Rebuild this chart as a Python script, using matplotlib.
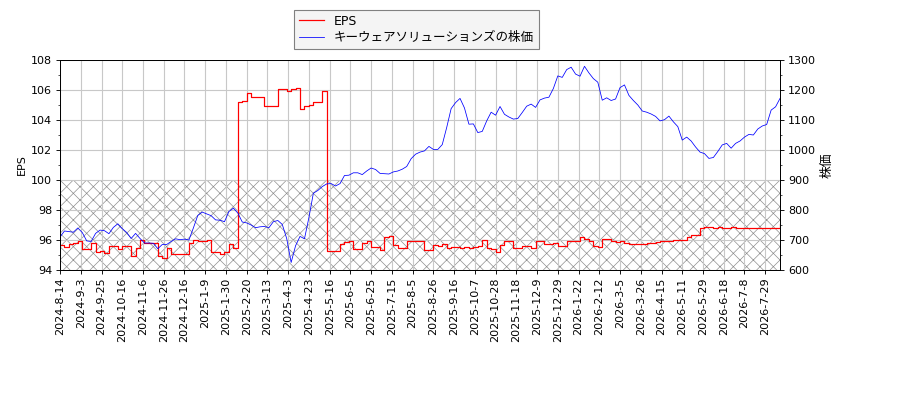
import numpy as np
import matplotlib

matplotlib.use("Agg")
import matplotlib.pyplot as plt
from matplotlib.ticker import MultipleLocator

plt.rcParams["font.family"] = ["DejaVu Sans", "Noto Sans CJK JP"]
plt.rcParams["hatch.linewidth"] = 0.6

# trading-day sampling step (values read every 3 trading days)
STEP = 3

# tick labels, one every 14 trading days
date_labels = [
    "2024-8-14", "2024-9-3", "2024-9-25", "2024-10-16", "2024-11-6",
    "2024-11-26", "2024-12-16", "2025-1-9", "2025-1-30", "2025-2-20",
    "2025-3-13", "2025-4-3", "2025-4-23", "2025-5-16", "2025-6-5",
    "2025-6-25", "2025-7-15", "2025-8-5", "2025-8-26", "2025-9-16",
    "2025-10-7", "2025-10-28", "2025-11-18", "2025-12-9", "2025-12-29",
    "2026-1-22", "2026-2-12", "2026-3-5", "2026-3-26", "2026-4-15",
    "2026-5-11", "2026-5-29", "2026-6-18", "2026-7-8", "2026-7-29",
]
TICK_EVERY = 14

# stock price (yen)
price = [
    710, 730, 728, 726, 740, 725, 697, 695, 722, 733,
    731, 721, 742, 754, 738, 725, 705, 722, 705, 690,
    690, 689, 671, 685, 685, 695, 704, 701, 703, 700,
    740, 782, 793, 787, 781, 767, 766, 761, 795, 806,
    790, 760, 757, 750, 741, 744, 745, 741, 761, 765,
    752, 705, 625, 681, 712, 704, 775, 856, 865, 878,
    887, 888, 880, 888, 915, 916, 924, 924, 918, 930,
    940, 935, 922, 921, 920, 927, 930, 936, 945, 971,
    986, 993, 997, 1012, 1002, 1002, 1018, 1075, 1138, 1158,
    1172, 1140, 1086, 1087, 1058, 1062, 1097, 1126, 1116, 1145,
    1119, 1110, 1103, 1105, 1125, 1146, 1153, 1142, 1167, 1173,
    1176, 1205, 1247, 1242, 1268, 1276, 1253, 1246, 1279, 1257,
    1238, 1226, 1166, 1174, 1165, 1170, 1208, 1217, 1182, 1165,
    1150, 1130, 1126, 1120, 1112, 1097, 1101, 1113, 1094, 1078,
    1033, 1043, 1030, 1010, 993, 988, 972, 975, 995, 1017,
    1022, 1006, 1022, 1030, 1043, 1052, 1050, 1070, 1080, 1085,
    1133, 1144, 1172,
]

# EPS
eps = [
    95.67, 95.56, 95.7, 95.8, 95.9, 95.4, 95.4, 95.8, 95.2, 95.3,
    95.15, 95.6, 95.6, 95.4, 95.6, 95.6, 94.9, 95.5, 96.0, 95.8,
    95.8, 95.8, 94.9, 94.8, 95.5, 95.1, 95.1, 95.1, 95.1, 95.8,
    96.0, 95.95, 95.9, 96.0, 95.2, 95.2, 95.1, 95.2, 95.7, 95.5,
    105.2, 105.3, 105.8, 105.55, 105.55, 105.55, 104.9, 104.9, 104.9, 106.1,
    106.1, 105.95, 106.05, 106.15, 104.7, 104.9, 105.0, 105.2, 105.2, 105.9,
    95.3, 95.3, 95.25, 95.75, 95.85, 95.9, 95.4, 95.4, 95.8, 95.9,
    95.55, 95.55, 95.33, 96.2, 96.27, 95.67, 95.44, 95.44, 95.93, 95.93,
    95.93, 95.93, 95.33, 95.33, 95.65, 95.6, 95.7, 95.5, 95.55, 95.55,
    95.5, 95.55, 95.5, 95.55, 95.6, 96.0, 95.45, 95.4, 95.2, 95.67,
    95.9, 95.9, 95.44, 95.44, 95.6, 95.6, 95.5, 95.93, 95.93, 95.7,
    95.75, 95.78, 95.6, 95.6, 95.93, 95.93, 95.93, 96.2, 96.1, 95.93,
    95.6, 95.55, 96.1, 96.1, 95.9, 95.85, 95.93, 95.8, 95.73, 95.73,
    95.73, 95.75, 95.78, 95.8, 95.85, 95.9, 95.95, 95.95, 96.0, 96.0,
    96.0, 96.2, 96.33, 96.33, 96.8, 96.84, 96.84, 96.8, 96.84, 96.8,
    96.78, 96.84, 96.8, 96.78, 96.78, 96.8, 96.78, 96.78, 96.78, 96.78,
    96.78, 96.78, 97.1,
]

EPS_THRESHOLD = 100


def main():
    x = np.arange(len(price)) * STEP
    fig = plt.figure(figsize=(11.25, 5), dpi=80)
    ax = fig.add_axes([0.0667, 0.325, 0.8, 0.525])
    ax2 = ax.twinx()

    # hatched band below the EPS threshold
    ax.axhspan(94, EPS_THRESHOLD, facecolor="none", edgecolor="#8c8c8c",
               hatch="xx", linewidth=0)

    l1, = ax.plot(x, eps, c="red", lw=1.1, drawstyle="steps-post", label="EPS")
    l2, = ax2.plot(x, price, c="blue", lw=0.7,
                   label="キーウェアソリューションズの株価")

    ax.set_xlim(0, x[-1])
    ax.set_ylim(94, 108)
    ax2.set_ylim(600, 1300)
    ax.yaxis.set_major_locator(MultipleLocator(2))
    ax.yaxis.set_minor_locator(MultipleLocator(1))
    ax2.yaxis.set_major_locator(MultipleLocator(100))
    ax2.yaxis.set_minor_locator(MultipleLocator(50))

    ticks = np.arange(len(date_labels)) * TICK_EVERY
    ax.set_xticks(ticks)
    ax.set_xticklabels(date_labels, rotation=90)
    ax.grid(True, color="#c8c8c8", lw=1)

    ax.set_ylabel("EPS")
    ax2.set_ylabel("株価", fontsize=11.5)

    leg = ax.legend(handles=[l1, l2], loc="upper center",
                    bbox_to_anchor=(0.495, 1.24), borderaxespad=0,
                    labelspacing=0.3, fancybox=False, framealpha=1,
                    prop={"size": 11.3})
    leg.get_frame().set_facecolor("#f4f4f4")
    leg.get_frame().set_edgecolor("#808080")

    fig.savefig("out.png", dpi=80)
    plt.close(fig)


if __name__ == "__main__":
    main()
